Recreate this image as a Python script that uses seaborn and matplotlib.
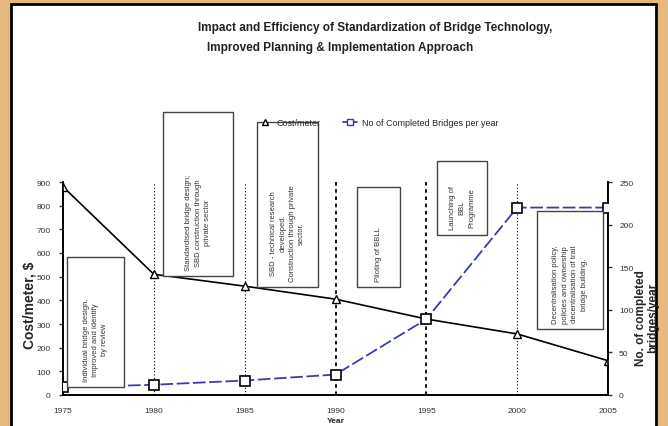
import numpy as np
import pandas as pd
import seaborn as sns
import matplotlib.pyplot as plt
from matplotlib.lines import Line2D
from matplotlib.patches import Rectangle

# Data
years = [1975, 1980, 1985, 1990, 1995, 2000, 2005]
year_labels = ["1975", "1980", "1985", "1990", "1995", "2000", "2005"]
cost_per_meter = [880, 510, 460, 405, 321, 258, 145]
bridges_per_year = [9, 12, 17, 24, 89, 220, 220]

cost_ticks = [0, 100, 200, 300, 400, 500, 600, 700, 800, 900]
bridge_ticks = [0, 50, 100, 150, 200, 250]

notes = [
    "Individual bridge design.\nImproved and identify\nby review",
    "Standardised bridge design;\nSBD construction through\nprivate sector",
    "SBD - technical research\ndeveloped.\nConstruction through private\nsector.",
    "Piloting of BBLL",
    "Launching of\nBBL\nProgramme",
    "Decentralisation policy,\npolicies and ownership\ndecentralisation of trail\nbridge building.",
]

df = pd.DataFrame({"year": years, "cost": cost_per_meter, "bridges": bridges_per_year})

sns.set_style("white")
plt.rcParams["font.family"] = ["Liberation Sans", "DejaVu Sans"]

W, H = 668, 427
fig = plt.figure(figsize=(W / 100, H / 100), dpi=100)
fig.patch.set_facecolor("#e6b87c")


def px(x, y):
    # pixel position (top-left origin) -> figure fraction
    return x / W, 1 - y / H


# white panel with black frame
x0, y0 = px(11, 5)
panel = Rectangle((x0, -0.05), (656 - 11) / W, y0 + 0.05, transform=fig.transFigure,
                  facecolor="white", edgecolor="black", lw=2, zorder=-5)
fig.patches.append(panel)

ax = fig.add_axes([63 / W, 1 - 396 / H, (608 - 63) / W, (396 - 183) / H])
ax.set_facecolor("none")
ax2 = ax.twinx()

# vertical markers at each year
for yr in years[1:]:
    heavy = yr in (1990, 1995, 2005)
    ax.axvline(yr, color="black", ls=(0, (2, 2)) if heavy else (0, (1, 2)),
               lw=1.3 if heavy else 0.8, zorder=1)

sns.lineplot(data=df, x="year", y="cost", ax=ax, color="black", lw=1.2,
             marker="^", markersize=6, markerfacecolor="white",
             markeredgecolor="black", markeredgewidth=1, zorder=3)
sns.lineplot(data=df, x="year", y="bridges", ax=ax2, color="#3b3bb0", lw=1.3,
             linestyle=(0, (7, 2)), marker="s", markersize=7,
             markerfacecolor="white", markeredgecolor="black",
             markeredgewidth=1.2, zorder=3)

ax.set_xlim(years[0], years[-1])
ax.set_ylim(0, 900)
ax2.set_ylim(0, 250)
ax.set_xticks(years)
ax.set_xticklabels(year_labels, fontsize=6)
ax.set_yticks(cost_ticks)
ax.set_yticklabels([str(t) for t in cost_ticks], fontsize=6)
ax2.set_yticks(bridge_ticks)
ax2.set_yticklabels([str(t) for t in bridge_ticks], fontsize=6)
ax.tick_params(axis="both", length=3, width=1, direction="out", pad=6, colors="#333333")
ax2.tick_params(axis="y", length=3, width=1, direction="out", pad=5, colors="#333333")

for a in (ax, ax2):
    a.spines["top"].set_visible(False)
    for s in ("left", "right", "bottom"):
        a.spines[s].set_color("black")
        a.spines[s].set_linewidth(1.2)

ax.set_xlabel("Year", fontsize=6, fontweight="bold", labelpad=2)
ax.set_ylabel("")
ax2.set_ylabel("")

fig.text(*px(30, 305), "Cost/meter, $", rotation=90, ha="center", va="center",
         fontsize=10, fontweight="bold")
fig.text(*px(647, 318), "No. of completed\nbridges/year", rotation=90, ha="center",
         va="center", fontsize=8.5, fontweight="bold", linespacing=0.95)

# title
fig.text(*px(198, 28), "Impact and Efficiency of Standardization of Bridge Technology,",
         ha="left", va="center", fontsize=8.5, fontweight="bold", color="#222222")
fig.text(*px(207, 48), "Improved Planning & Implementation Approach",
         ha="left", va="center", fontsize=8.5, fontweight="bold", color="#222222")

# legend
handles = [
    Line2D([], [], color="none", marker="^", markersize=5, markerfacecolor="white",
           markeredgecolor="black"),
    Line2D([], [], color="#3b3bb0", lw=1.3, marker="s", markersize=5,
           markerfacecolor="white", markeredgecolor="#3b3bb0"),
]
fig.legend(handles, ["Cost/meter", "No of Completed Bridges per year"],
           loc="center", bbox_to_anchor=px(378, 124), ncol=2, frameon=False,
           fontsize=6.5, handlelength=1.6, columnspacing=2.5, handletextpad=0.5)

# annotation callouts: (box left, top, right, bottom) in pixels, text
boxes = [
    (67, 258, 124, 388),
    (163, 113, 233, 277),
    (257, 123, 318, 288),
    (357, 188, 400, 288),
    (437, 162, 487, 236),
    (537, 212, 603, 330),
]
for (l, t, r, b), note in zip(boxes, notes):
    bl = px(l, b)
    rect = Rectangle(bl, (r - l) / W, (b - t) / H, transform=fig.transFigure,
                     facecolor="white", edgecolor="#444444", lw=1, zorder=4)
    fig.patches.append(rect)
    fig.text(*px((l + r) / 2, b - 6), note, rotation=90, ha="center", va="bottom",
             fontsize=5.5, linespacing=1.5, color="#333333", zorder=5)

fig.savefig("out.png", dpi=100, facecolor=fig.get_facecolor())
